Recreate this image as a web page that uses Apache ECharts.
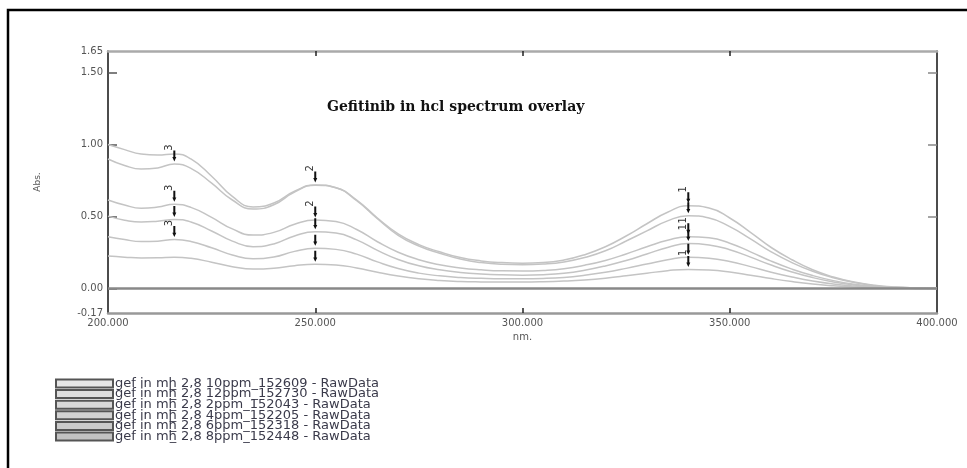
<!DOCTYPE html>
<html><head><meta charset="utf-8">
<script src="https://cdn.jsdelivr.net/npm/echarts@6/dist/echarts.min.js"></script>
<style>html,body{margin:0;padding:0;background:#fff}#c{width:967px;height:468px}</style>
</head><body><div id="c"></div>
<script>
const wavelengths = [200,204,208,212,216,220,225,230,235,240,245,250,255,260,265,270,275,280,285,290,295,300,305,310,315,320,325,330,335,340,345,350,355,360,365,370,375,380,385,390,395,400];
const ppm12 = [1.00,0.965,0.935,0.928,0.935,0.90,0.78,0.64,0.567,0.594,0.676,0.72,0.70,0.615,0.49,0.38,0.305,0.255,0.215,0.192,0.18,0.176,0.18,0.198,0.235,0.29,0.365,0.45,0.53,0.575,0.56,0.49,0.39,0.285,0.2,0.13,0.08,0.045,0.022,0.01,0.005,0.003];
const ppm10 = [0.90,0.855,0.83,0.838,0.865,0.835,0.732,0.615,0.552,0.582,0.67,0.718,0.70,0.61,0.485,0.37,0.295,0.245,0.205,0.18,0.168,0.165,0.17,0.185,0.215,0.262,0.33,0.40,0.47,0.505,0.49,0.43,0.345,0.255,0.18,0.12,0.075,0.042,0.02,0.009,0.004,0.002];
const ppm8 = [0.615,0.58,0.558,0.566,0.585,0.564,0.494,0.414,0.371,0.39,0.446,0.476,0.465,0.41,0.325,0.252,0.2,0.165,0.143,0.13,0.123,0.122,0.126,0.138,0.162,0.195,0.24,0.29,0.335,0.36,0.352,0.315,0.255,0.19,0.135,0.09,0.055,0.03,0.015,0.007,0.003,0.001];
const ppm6 = [0.503,0.475,0.462,0.468,0.48,0.462,0.40,0.329,0.291,0.31,0.365,0.394,0.385,0.338,0.265,0.202,0.158,0.13,0.112,0.101,0.095,0.093,0.096,0.106,0.127,0.157,0.195,0.24,0.285,0.312,0.303,0.27,0.218,0.163,0.115,0.076,0.046,0.025,0.012,0.005,0.002,0.001];
const ppm4 = [0.36,0.34,0.326,0.329,0.34,0.327,0.283,0.233,0.206,0.219,0.258,0.279,0.272,0.239,0.185,0.139,0.107,0.088,0.077,0.071,0.068,0.068,0.07,0.077,0.092,0.113,0.14,0.17,0.2,0.217,0.211,0.188,0.152,0.113,0.08,0.052,0.031,0.017,0.008,0.003,0.001,0];
const ppm2 = [0.226,0.218,0.212,0.213,0.218,0.21,0.183,0.152,0.135,0.141,0.159,0.168,0.164,0.143,0.113,0.087,0.068,0.056,0.049,0.046,0.045,0.045,0.047,0.052,0.06,0.072,0.088,0.106,0.124,0.133,0.129,0.115,0.093,0.069,0.048,0.031,0.019,0.01,0.005,0.002,0.001,0];

const seriesNames = [
  'gef in mh\u0332 2,8 10ppm_152609 - RawData',
  'gef in mh\u0332 2,8 12ppm_152730 - RawData',
  'gef in mh\u0332 2,8 2ppm_152043 - RawData',
  'gef in mh\u0332 2,8 4ppm_152205 - RawData',
  'gef in mh\u0332 2,8 6ppm_152318 - RawData',
  'gef in mh\u0332 2,8 8ppm_152448 - RawData'
];
const seriesValues = [ppm10, ppm12, ppm2, ppm4, ppm6, ppm8];
const xTickLabels = [200, 250, 300, 350, 400];
const yTickLabels = [-0.17, 0, 0.5, 1.0, 1.5, 1.65];
const yTicks = [0, 0.5, 1.0, 1.5];
const peakWavelengths = [216, 250, 340];
const peakNumbers = ['3', '2', '1'];
// which peaks get an arrow / a digit for each series, in legend order
const peakArrows = [[1,0,1],[0,1,1],[0,1,1],[1,1,1],[1,1,1],[1,1,1]];
const peakDigits = [[1,0,0],[0,1,1],[0,0,1],[1,0,0],[0,0,1],[1,1,1]];

const legendSwatch = ['#e6e6e6','#dedede','#d8d8d8','#d2d2d2','#cacaca','#c2c2c2'];

const series = seriesValues.map((vals, si) => {
  const mp = [];
  peakWavelengths.forEach((w, pi) => {
    if (!peakArrows[si][pi]) return;
    const idx = wavelengths.indexOf(w);
    mp.push({
      coord: [w, vals[idx]],
      label: { show: !!peakDigits[si][pi], formatter: peakNumbers[pi] }
    });
  });
  return {
    name: seriesNames[si],
    type: 'line',
    smooth: 0.5,
    symbol: 'none',
    data: wavelengths.map((w, i) => [w, vals[i]]),
    lineStyle: { color: '#c4c4c4', width: 1.5 },
    itemStyle: { color: legendSwatch[si], borderColor: '#555', borderWidth: 1 },
    z: 3,
    markPoint: {
      symbol: 'path://M1,0L3,0L3,6L4,6L2,10L0,6L1,6Z',
      symbolSize: [4, 11],
      symbolOffset: [0, -8],
      silent: true,
      itemStyle: { color: '#111' },
      label: { position: 'top', distance: 3, rotate: 90, fontSize: 10, color: '#333', fontFamily: 'DejaVu Sans' },
      data: mp
    }
  };
});

series.push({
  type: 'line', name: 'zero', data: [], silent: true,
  markLine: {
    silent: true, symbol: 'none', label: { show: false },
    lineStyle: { color: '#888', width: 2.5, type: 'solid' },
    data: [{ yAxis: 0 }]
  }
});

const chart = echarts.init(document.getElementById('c'), null, { renderer: 'canvas' });
chart.setOption({
  animation: false,
  backgroundColor: '#fff',
  graphic: [{
    type: 'rect', shape: { x: 8, y: 10, width: 980, height: 480 },
    style: { fill: 'none', stroke: '#000', lineWidth: 2.5 }, silent: true
  }],
  title: {
    text: 'Gefitinib in hcl spectrum overlay',
    left: 322, top: 95,
    textStyle: { fontFamily: 'DejaVu Serif', fontWeight: 'bold', fontSize: 14, color: '#111' }
  },
  legend: {
    orient: 'vertical', left: 55, top: 377, padding: 0,
    data: seriesNames,
    icon: 'rect', itemWidth: 57, itemHeight: 8, itemGap: -2.4,
    textStyle: { fontFamily: 'DejaVu Sans', fontSize: 13, color: '#3a3a4a', padding: [0,0,0,-3] }
  },
  grid: { left: 108, right: 30, top: 51, bottom: 155 },
  xAxis: [{
    type: 'value', min: 200, max: 400, position: 'bottom',
    name: 'nm.', nameLocation: 'middle', nameGap: 9,
    nameTextStyle: { fontFamily: 'DejaVu Sans', fontSize: 10, color: '#555' },
    axisLine: { show: true, onZero: false, lineStyle: { color: '#999', width: 2.5 } },
    axisTick: { show: true, inside: true, length: 5, customValues: [250, 300, 350], lineStyle: { color: '#222', width: 1.5 } },
    axisLabel: { customValues: xTickLabels, formatter: v => v.toFixed(3), fontFamily: 'DejaVu Sans', fontSize: 10, color: '#555', margin: 5 },
    splitLine: { show: false }
  }, {
    type: 'value', min: 200, max: 400, position: 'top',
    axisLine: { show: true, onZero: false, lineStyle: { color: '#aaa', width: 2.5 } },
    axisTick: { show: true, inside: true, length: 5, customValues: [250, 300, 350], lineStyle: { color: '#222', width: 1.5 } },
    axisLabel: { show: false }, splitLine: { show: false }
  }],
  yAxis: [{
    type: 'value', min: -0.17, max: 1.65, position: 'left',
    name: 'Abs.', nameLocation: 'middle', nameGap: 66, nameRotate: 90,
    nameTextStyle: { fontFamily: 'DejaVu Sans', fontSize: 9, color: '#555' },
    axisLine: { show: true, onZero: false, lineStyle: { color: '#111', width: 1.5 } },
    axisTick: { show: true, inside: true, length: 9, customValues: yTicks, lineStyle: { color: '#555', width: 1.5 } },
    axisLabel: { customValues: yTickLabels, formatter: v => v.toFixed(2), fontFamily: 'DejaVu Sans', fontSize: 10, color: '#555', margin: 5 },
    splitLine: { show: false }
  }, {
    type: 'value', min: -0.17, max: 1.65, position: 'right',
    axisLine: { show: true, onZero: false, lineStyle: { color: '#111', width: 1.5 } },
    axisTick: { show: true, inside: true, length: 9, customValues: [0.5, 1.0, 1.5], lineStyle: { color: '#888', width: 1.5 } },
    axisLabel: { show: false }, splitLine: { show: false }
  }],
  series: series
});
</script>
</body></html>
